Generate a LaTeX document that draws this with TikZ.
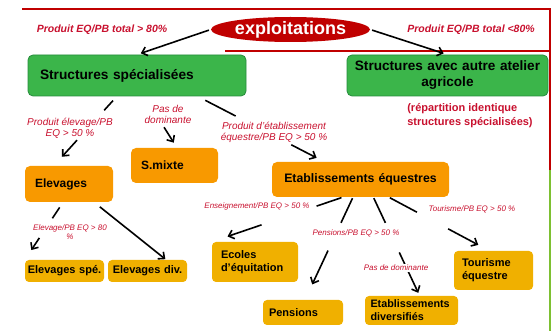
\documentclass[tikz,border=0pt]{standalone}
\usepackage{fontspec}
\setmainfont{Liberation Sans}
\usetikzlibrary{calc,arrows.meta,shapes.geometric}

\definecolor{rougeT}{RGB}{200,16,46}
\definecolor{rougeF}{RGB}{192,0,0}
\definecolor{vertB}{RGB}{59,181,74}
\definecolor{vertD}{RGB}{38,140,60}
\definecolor{vertL}{RGB}{125,192,50}
\definecolor{orangeB}{RGB}{248,153,0}
\definecolor{jauneB}{RGB}{240,176,0}

\tikzset{
  vbox/.style={rounded corners=5pt, fill=vertB, draw=vertD, line width=0.8pt, inner ysep=0pt, font=\bfseries\fontsize{13}{16}\selectfont},
  obox/.style={rounded corners=5pt, fill=orangeB, inner ysep=0pt, font=\bfseries\fontsize{12}{14}\selectfont},
  jbox/.style={rounded corners=4pt, fill=jauneB, inner ysep=0pt, font=\bfseries\fontsize{11}{13}\selectfont},
  labT/.style={text=rougeT, font=\bfseries\itshape\fontsize{10.5}{12}\selectfont, inner sep=1pt},
  labM/.style={text=rougeT, font=\itshape\fontsize{10}{11}\selectfont, align=center, inner sep=1pt},
  labS/.style={text=rougeT, font=\itshape\fontsize{8}{9}\selectfont, align=center, inner sep=1pt},
  tr/.style={line width=1.6pt},
  fl/.style={line width=1.6pt, -{Straight Barb[length=5pt,width=9pt]}},
  cadre/.style={draw=rougeF, line width=2pt},
}

\begin{document}
\begin{tikzpicture}[x=1pt,y=1pt,yscale=-1]
\useasboundingbox (0,0) rectangle (552,331);

%Frame lines
\draw[cadre] (22,9) -- (550,9) -- (550,170);
\draw[cadre] (225,51) -- (550,51);
\draw[draw=vertL, line width=2.5pt] (550,170) -- (550,331);

%Ellipse
\node[ellipse, fill=rougeF, minimum width=159pt, minimum height=25pt, inner sep=0pt, text=white, font=\bfseries\fontsize{18}{20}\selectfont] (expl) at (290.5,29.5) {exploitations};

%Green boxes
\node[vbox, minimum height=41pt, text width=194pt, inner xsep=12pt, align=left, font=\bfseries\fontsize{13.7}{16}\selectfont] (spec) at (137,75.5) {Structures spécialisées};
\node[vbox, minimum height=41pt, text width=193pt, inner xsep=4pt, align=center, font=\bfseries\fontsize{13.6}{16}\selectfont] (autre) at (447.5,75.5) {Structures avec autre atelier\\agricole};

%Orange boxes
\node[obox, minimum height=36pt, text width=68pt, inner xsep=10pt, align=left] (elev) at (69,184) {Elevages};
\node[obox, minimum height=35pt, text width=67pt, inner xsep=10pt, align=left] (smixte) at (174.5,165.5) {S.mixte};
\node[obox, minimum height=35pt, text width=169pt, inner xsep=4pt, align=center, font=\bfseries\fontsize{12.3}{14}\selectfont] (etab) at (360.5,179.5) {Etablissements équestres};

%Yellow boxes
\node[jbox, minimum height=22pt, text width=75pt, inner xsep=2pt, align=center] (espe) at (64.5,271) {Elevages spé.};
\node[jbox, minimum height=22pt, text width=75pt, inner xsep=2pt, align=center] (ediv) at (147.5,271) {Elevages div.};
\node[jbox, minimum height=40pt, text width=68pt, inner xsep=9pt, align=left] (ecoles) at (255,262) {Ecoles\\d'équitation};
\node[jbox, minimum height=25pt, text width=68pt, inner xsep=6pt, align=left] (pens) at (303,312.5) {Pensions};
\node[jbox, minimum height=29pt, text width=82pt, inner xsep=5.5pt, align=left, font=\bfseries\fontsize{10.8}{13}\selectfont] (ediver) at (411.5,310.5) {Etablissements\\diversifiés};
\node[jbox, minimum height=39pt, text width=63pt, inner xsep=8pt, align=left] (tour) at (493.5,270.5) {Tourisme\\équestre};

%Arrows from the ellipse
\draw[fl, shorten <=2pt, shorten >=4pt] (expl.west) -- (spec.north);
\draw[fl, shorten <=2pt, shorten >=4pt] (expl.east) -- (autre.north);

%Arrows from Structures spécialisées
\draw[tr] ($(spec.-134)!.06!(elev.130)$) -- ($(spec.-134)!.2!(elev.130)$);
\draw[fl] ($(spec.-134)!.63!(elev.130)$) -- ($(spec.-134)!.87!(elev.130)$);
\draw[fl] ($(spec.-70)!.6!(smixte.82)$) -- ($(spec.-70)!.9!(smixte.82)$);
\draw[tr] ($(spec.-19)!.06!(etab.154)$) -- ($(spec.-19)!.3!(etab.154)$);
\draw[fl] ($(spec.-19)!.74!(etab.154)$) -- ($(spec.-19)!.94!(etab.154)$);

%Arrows from Elevages
\draw[tr] ($(elev.-108)!.09!(espe.north west)$) -- ($(elev.-108)!.28!(espe.north west)$);
\draw[fl] ($(elev.-108)!.62!(espe.north west)$) -- ($(elev.-108)!.83!(espe.north west)$);
\draw[fl, shorten >=1pt] ($(elev.-36)!.08!(ediv.31)$) -- (ediv.31);

%Arrows from Etablissements équestres
\draw[tr] ($(etab.-135)!.01!(ecoles.north west)$) -- ($(etab.-135)!.2!(ecoles.north west)$);
\draw[fl] ($(etab.-135)!.62!(ecoles.north west)$) -- ($(etab.-135)!.88!(ecoles.north west)$);
\draw[tr] ($(etab.-113)!.01!(pens.81)$) -- ($(etab.-113)!.25!(pens.81)$);
\draw[fl] ($(etab.-113)!.52!(pens.81)$) -- ($(etab.-113)!.85!(pens.81)$);
\draw[tr] ($(etab.-54)!.01!(ediver.61)$) -- ($(etab.-54)!.26!(ediver.61)$);
\draw[fl] ($(etab.-54)!.56!(ediver.61)$) -- ($(etab.-54)!.97!(ediver.61)$);
\draw[tr] ($(etab.-32)!.01!(tour.102)$) -- ($(etab.-32)!.28!(tour.102)$);
\draw[fl] ($(etab.-32)!.59!(tour.102)$) -- ($(etab.-32)!.89!(tour.102)$);

% Text Node
\node[labT] (lbG) at (102,30) {Produit EQ/PB total > 80\%};
% Text Node
\node[labT] (lbD) at (471,30) {Produit EQ/PB total <80\%};
% Text Node
\node[text=rougeT, font=\bfseries\fontsize{11}{14}\selectfont, align=left] (repart) at (470,116) {(répartition identique\\structures spécialisées)};
% Text Node
\node[labM] (lbA) at (70,128) {Produit élevage/PB\\EQ > 50 \%};
% Text Node
\node[labM] (lbPas) at (168,114) {Pas de\\dominante};
% Text Node
\node[labM] (lbEtab) at (274,132) {Produit d'établissement\\équestre/PB EQ > 50 \%};
% Text Node
\node[labS] (lbElev) at (70,232) {Elevage/PB EQ > 80\\\%};
% Text Node
\node[labS] (lbEns) at (257,206) {Enseignement/PB EQ > 50 \%};
% Text Node
\node[labS] (lbPens) at (356,233) {Pensions/PB EQ > 50 \%};
% Text Node
\node[labS, fill=white] (lbPas2) at (396,268) {Pas de dominante};
% Text Node
\node[labS] (lbTour) at (472,209) {Tourisme/PB EQ > 50 \%};

\end{tikzpicture}
\end{document}
